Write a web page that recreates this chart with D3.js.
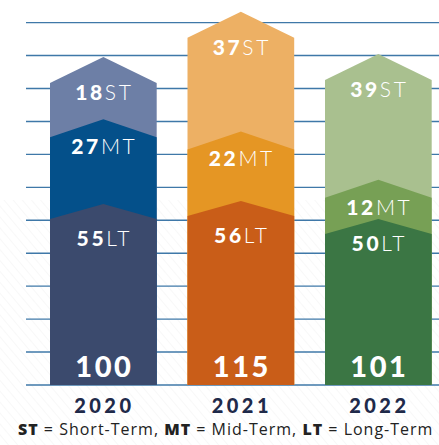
<!DOCTYPE html>
<html>
<head>
<meta charset="utf-8">
<script src="https://cdn.jsdelivr.net/npm/d3@7"></script>
<style>
  html, body { margin: 0; padding: 0; background: #ffffff; }
  svg { display: block; }
</style>
</head>
<body>
<svg id="chart" width="439" height="445"></svg>
<script>
// ---- data ----
const years = ["2020", "2021", "2022"];
const tiers = ["LT", "MT", "ST"];
const ltValues = [55, 56, 50];
const mtValues = [27, 22, 12];
const stValues = [18, 37, 39];
const totals = [100, 115, 101];
const ltColors = ["#3b4a6d", "#c95d18", "#3b7644"];
const mtColors = ["#04508a", "#e59624", "#77a055"];
const stColors = ["#6d7fa6", "#edb064", "#a9c08f"];
const footnote = [["ST", " = Short-Term, "], ["MT", " = Mid-Term, "], ["LT", " = Long-Term"]];

const rows = years.map((y, i) => ({
  year: y, LT: ltValues[i], MT: mtValues[i], ST: stValues[i], total: totals[i]
}));
const colorOf = { LT: ltColors, MT: mtColors, ST: stColors };
const arrowH = { LT: 15, MT: 18, ST: 26 };

const svg = d3.select("#chart");
const y = d3.scaleLinear().domain([0, 120]).range([385, 22.6]);
const x = d3.scaleBand().domain(years).range([50, 431.7]).paddingInner(0.224).paddingOuter(0);

// subtle background hatch
const defs = svg.append("defs");
const pat = defs.append("pattern").attr("id", "hatch").attr("patternUnits", "userSpaceOnUse")
  .attr("width", 7).attr("height", 7).attr("patternTransform", "rotate(-40)");
pat.append("line").attr("x1", 0).attr("y1", 0).attr("x2", 0).attr("y2", 7)
  .attr("stroke", "#d8d8d8").attr("stroke-width", 0.8);
svg.append("rect").attr("x", 0).attr("y", 200).attr("width", 439).attr("height", 245)
  .attr("fill", "url(#hatch)").attr("opacity", 0.45);

// gridlines
const gridVals = d3.range(12).map(i => 120 * i / 11);
svg.append("g").selectAll("line").data(gridVals).join("line")
  .attr("x1", 26).attr("x2", 439)
  .attr("y1", d => y(d)).attr("y2", d => y(d))
  .attr("stroke", "#3f78a8").attr("stroke-width", 1.4);

// stacked arrow bars
const stack = d3.stack().keys(tiers)(rows);
const bw = x.bandwidth();
function arrowPath(x0, yTop, yBot, h) {
  const xm = x0 + bw / 2;
  return `M${x0},${yBot}L${x0},${yTop}L${xm},${yTop - h}L${x0 + bw},${yTop}L${x0 + bw},${yBot}Z`;
}
const layersTopFirst = stack.slice().reverse();
layersTopFirst.forEach(layer => {
  const key = layer.key;
  svg.append("g").selectAll("path").data(layer).join("path")
    .attr("d", (d, i) => arrowPath(x(years[i]), y(d[1]), y(0), arrowH[key]))
    .attr("fill", (d, i) => colorOf[key][i]);
});

// segment labels
stack.forEach(layer => {
  const key = layer.key;
  const g = svg.append("g");
  layer.forEach((d, i) => {
    const t = g.append("text")
      .attr("x", x(years[i]) + bw / 2 + 1)
      .attr("y", y(d[1]) + (key === "LT" && i < 2 ? 27 : 17))
      .attr("text-anchor", "middle")
      .attr("fill", "#ffffff")
      .attr("font-family", "Lato, 'Open Sans', sans-serif")
      .attr("font-size", 21)
      .attr("letter-spacing", 2.6);
    t.append("tspan").attr("font-weight", 900).text(d[1] - d[0]);
    t.append("tspan").attr("font-weight", 300).text(key);
  });
});

// totals
svg.append("g").selectAll("text").data(rows).join("text")
  .attr("x", d => x(d.year) + bw / 2 + 1)
  .attr("y", 377)
  .attr("text-anchor", "middle")
  .attr("fill", "#ffffff")
  .attr("font-family", "Lato, 'Open Sans', sans-serif")
  .attr("font-weight", 900)
  .attr("font-size", 29)
  .attr("letter-spacing", 2.5)
  .text(d => d.total);

// year axis labels
svg.append("g").selectAll("text").data(years).join("text")
  .attr("x", d => x(d) + bw / 2 + 1)
  .attr("y", 413)
  .attr("text-anchor", "middle")
  .attr("fill", "#1f2a4a")
  .attr("font-family", "Lato, 'Open Sans', sans-serif")
  .attr("font-weight", 900)
  .attr("font-size", 20)
  .attr("letter-spacing", 3.5)
  .text(d => d);

// footnote
const fn = svg.append("text")
  .attr("x", 18).attr("y", 435)
  .attr("fill", "#222222")
  .attr("font-family", "'Open Sans', sans-serif")
  .attr("font-size", 16)
  .attr("letter-spacing", 1.0);
footnote.forEach(([abbr, rest]) => {
  fn.append("tspan").attr("font-weight", 800).text(abbr);
  fn.append("tspan").attr("font-weight", 400).text(rest);
});
</script>
</body>
</html>
